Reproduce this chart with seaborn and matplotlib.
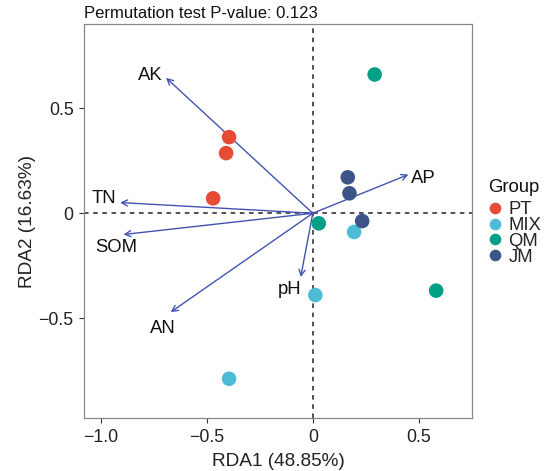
import matplotlib
matplotlib.use("Agg")
import matplotlib.pyplot as plt
import seaborn as sns
import pandas as pd

# Sample scores
groups = ["PT", "PT", "PT", "MIX", "MIX", "MIX", "QM", "QM", "QM", "JM", "JM", "JM"]
rda1 = [-0.395, -0.409, -0.470, 0.195, 0.012, -0.395, 0.292, 0.028, 0.582, 0.165, 0.173, 0.233]
rda2 = [0.362, 0.286, 0.071, -0.089, -0.389, -0.787, 0.660, -0.048, -0.368, 0.171, 0.095, -0.037]
group_order = ["PT", "MIX", "QM", "JM"]
group_colors = ["#E64B35", "#4DBBD5", "#00A087", "#3C5488"]

# Environmental vectors
env_names = ["AK", "TN", "AP", "SOM", "AN", "pH"]
env_x = [-0.692, -0.909, 0.451, -0.893, -0.670, -0.057]
env_y = [0.644, 0.051, 0.184, -0.101, -0.470, -0.303]
label_x = [-0.765, -0.985, 0.522, -0.925, -0.708, -0.108]
label_y = [0.657, 0.070, 0.165, -0.165, -0.549, -0.363]

title = "Permutation test P-value: 0.123"
xlabel = "RDA1 (48.85%)"
ylabel = "RDA2 (16.63%)"

sns.set_theme(style="white")
plt.rcParams["font.family"] = ["Liberation Sans", "DejaVu Sans"]

fig = plt.figure(figsize=(5.53, 4.71), dpi=100)
ax = fig.add_axes([0.152, 0.1115, 0.7015, 0.8375])

ax.axhline(0, color="#222222", lw=1.1, ls=(0, (3, 3)), zorder=1)
ax.axvline(0, color="#222222", lw=1.1, ls=(0, (3, 3)), zorder=1)

arrow_color = "#4254B0"
for nm, ex, ey, lx, ly in zip(env_names, env_x, env_y, label_x, label_y):
    ax.annotate("", xy=(ex, ey), xytext=(0, 0),
                arrowprops=dict(arrowstyle="->,head_length=0.35,head_width=0.18",
                                color=arrow_color, lw=1.0, shrinkA=0, shrinkB=0),
                zorder=2)
    ax.text(lx, ly, nm, fontsize=13.3, color="#111111", ha="center", va="center", zorder=4)

df = pd.DataFrame({"RDA1": rda1, "RDA2": rda2, "Group": groups})
sns.scatterplot(data=df, x="RDA1", y="RDA2", hue="Group", hue_order=group_order,
                palette=group_colors, s=110, edgecolor="none", ax=ax, zorder=3)

ax.set_xlim(-1.079, 0.751)
ax.set_ylim(-0.976, 0.900)
ax.set_xticks([-1.0, -0.5, 0, 0.5])
ax.set_xticklabels(["\u22121.0", "\u22120.5", "0", "0.5"])
ax.set_yticks([-0.5, 0, 0.5])
ax.set_yticklabels(["\u22120.5", "0", "0.5"])
ax.tick_params(axis="both", labelsize=12.8, colors="#333333", length=3.5, width=0.8,
               direction="out", bottom=True, left=True, pad=4)
for lab in ax.get_xticklabels() + ax.get_yticklabels():
    lab.set_color("#222222")
for sp in ax.spines.values():
    sp.set_color("#888888")
    sp.set_linewidth(0.9)

ax.set_xlabel(xlabel, fontsize=13.7, color="#222222", labelpad=5)
ax.set_ylabel(ylabel, fontsize=13.7, color="#222222", labelpad=2)
ax.set_title(title, fontsize=12, loc="left", color="#111111", pad=4, x=0.0)

# legend
ax.get_legend().remove()
handles, labels = ax.get_legend_handles_labels()
leg = fig.legend(handles, labels, loc="center left",
                 bbox_to_anchor=(0.8825, 1 - 233.5 / 471), bbox_transform=fig.transFigure,
                 frameon=False, fontsize=13.3, handletextpad=0.3,
                 labelspacing=-0.06, borderaxespad=0, borderpad=0,
                 markerscale=0.8, handlelength=0.8)
fig.text(488 / 553, 1 - 187 / 471, "Group", fontsize=13.3, color="#111111",
         ha="left", va="center")

fig.savefig("out.png", dpi=100)
